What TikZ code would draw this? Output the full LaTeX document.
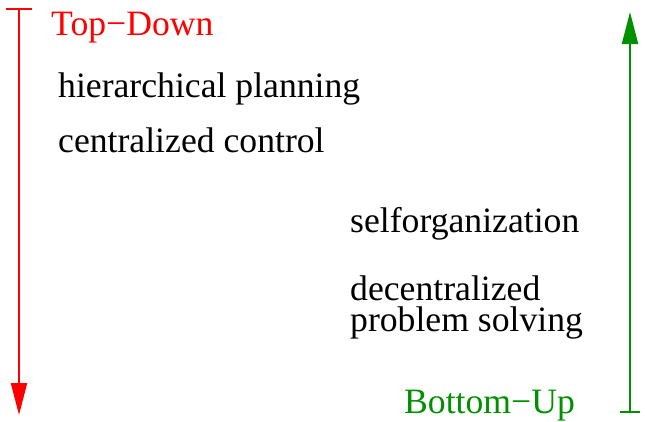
\documentclass[tikz,border=0pt]{standalone}
\usepackage{fontspec}
\setmainfont{Liberation Serif}
\usepackage{xcolor}
\usetikzlibrary{arrows.meta}
\definecolor{figgreen}{RGB}{0,144,0}

\begin{document}
\begin{tikzpicture}[x=1bp,y=-1bp,font=\fontsize{35.8pt}{40pt}\selectfont,
  every node/.style={anchor=base west,inner sep=0pt}]
\useasboundingbox (0,0) rectangle (645,421);
\node [red] (1) at (51,35) {Top−Down};
\node (2) at (58,97) {hierarchical planning};
\node (3) at (58,152) {centralized control};
\node (4) at (350,232) {selforganization};
\node (5) at (350,300) {decentralized};
\node (6) at (350,331) {problem solving};
\node [figgreen] (7) at (404,413) {Bottom−Up};
\coordinate (a) at (19,8);
\coordinate (b) at (19,415);
\coordinate (c) at (630,413);
\coordinate (d) at (630,12);
\draw [red, line width=2bp, {Bar[width=26bp]}-{Triangle[length=32bp,width=16bp]}] (a) -- (b);
\draw [figgreen, line width=2bp, {Bar[width=20bp]}-{Triangle[length=32bp,width=16bp]}] (c) -- (d);
\end{tikzpicture}
\end{document}
